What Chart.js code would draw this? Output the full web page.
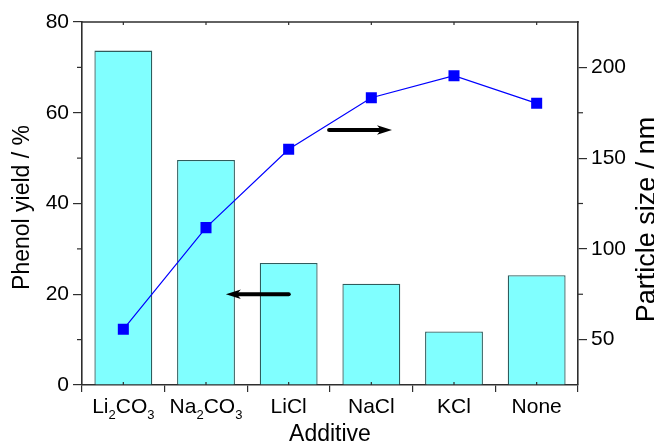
<!DOCTYPE html>
<html>
<head>
<meta charset="utf-8">
<script src="https://cdn.jsdelivr.net/npm/chart.js@4.4.1/dist/chart.umd.min.js"></script>
<style>
  html, body { margin: 0; padding: 0; background: #ffffff; }
  canvas { display: block; }
</style>
</head>
<body>
<canvas id="c" width="654" height="444" style="width:654px;height:444px"></canvas>
<script>
// ---- data ----
const categories = ['Li₂CO₃', 'Na₂CO₃', 'LiCl', 'NaCl', 'KCl', 'None'];
const phenolYield = [73.7, 49.6, 26.9, 22.3, 11.8, 24.2];
const particleSize = [55.7, 111.7, 154.9, 183.3, 195.4, 180.2];
const leftTicks = [0, 20, 40, 60, 80];
const leftMinorTicks = [10, 30, 50, 70];
const rightTicks = [50, 100, 150, 200];
const rightMinorTicks = [75, 125, 175];
const xTitle = 'Additive';
const yLeftTitle = 'Phenol yield / %';
const yRightTitle = 'Particle size / nm';
// arrows: annotation pointing to the axis each series belongs to (data coordinates)
const arrows = [
  { axis: 'y',  value: 20,    fromIndex: 2.0,  toIndex: 1.24 },
  { axis: 'y1', value: 165.5, fromIndex: 2.49, toIndex: 3.25 }
];

// ---- styles ----
const FONT = '"Liberation Sans", Arial, Helvetica, sans-serif';
const AXIS = '#2e2e2e';
const subMap = { '₀':'0','₁':'1','₂':'2','₃':'3','₄':'4','₅':'5','₆':'6','₇':'7','₈':'8','₉':'9' };

function drawRich(ctx, text, cx, baseline, size) {
  const runs = [];
  for (const ch of text) {
    const sub = subMap[ch] !== undefined;
    const c = sub ? subMap[ch] : ch;
    if (runs.length && runs[runs.length - 1].sub === sub) runs[runs.length - 1].t += c;
    else runs.push({ t: c, sub });
  }
  const subSize = Math.round(size * 0.62);
  let total = 0;
  runs.forEach(r => {
    ctx.font = (r.sub ? subSize : size) + 'px ' + FONT;
    r.w = ctx.measureText(r.t).width;
    total += r.w;
  });
  let x = cx - total / 2;
  ctx.textAlign = 'left';
  ctx.textBaseline = 'alphabetic';
  runs.forEach(r => {
    ctx.font = (r.sub ? subSize : size) + 'px ' + FONT;
    ctx.fillText(r.t, x, baseline + (r.sub ? size * 0.3 : 0));
    x += r.w;
  });
}

function line(ctx, x1, y1, x2, y2) {
  ctx.beginPath(); ctx.moveTo(x1, y1); ctx.lineTo(x2, y2); ctx.stroke();
}

const decorPlugin = {
  id: 'decor',
  afterDatasetsDraw(chart) {
    const ctx = chart.ctx;
    const xs = chart.scales.x;
    ctx.save();
    ctx.fillStyle = '#000';
    ctx.strokeStyle = '#000';
    arrows.forEach(a => {
      const sc = chart.scales[a.axis];
      const y = sc.getPixelForValue(a.value);
      const x1 = xs.getPixelForValue(a.fromIndex);
      const x2 = xs.getPixelForValue(a.toIndex);
      const dir = Math.sign(x2 - x1);
      const headLen = 15, headHalf = 4.8;
      ctx.lineWidth = 4.2;
      ctx.lineCap = 'round';
      line(ctx, x1, y, x2 - dir * (headLen - 3), y);
      ctx.beginPath();
      ctx.moveTo(x2, y);
      ctx.lineTo(x2 - dir * headLen, y - headHalf);
      ctx.lineTo(x2 - dir * (headLen - 4), y);
      ctx.lineTo(x2 - dir * headLen, y + headHalf);
      ctx.closePath();
      ctx.fill();
    });
    ctx.restore();
  },
  afterDraw(chart) {
    const ctx = chart.ctx;
    const area = chart.chartArea;
    const xs = chart.scales.x, yl = chart.scales.y, yr = chart.scales.y1;
    ctx.save();
    ctx.strokeStyle = AXIS;
    ctx.lineWidth = 1.6;
    line(ctx, area.left - 0.8, area.top, area.right + 0.8, area.top);
    ctx.lineWidth = 1.2;
    leftMinorTicks.forEach(v => { const y = yl.getPixelForValue(v); line(ctx, area.left - 5, y, area.left, y); });
    rightMinorTicks.forEach(v => { const y = yr.getPixelForValue(v); line(ctx, area.right, y, area.right + 5, y); });
    categories.forEach((c, i) => {
      const x = xs.getPixelForValue(i);
      line(ctx, x, area.bottom, x, area.bottom - 3);
      line(ctx, x, area.top, x, area.top + 3);
    });
    // x tick labels with subscripts
    ctx.fillStyle = '#000';
    categories.forEach((c, i) => {
      drawRich(ctx, c, xs.getPixelForValue(i), area.bottom + 28, 21);
    });
    // titles
    ctx.textAlign = 'center';
    ctx.textBaseline = 'alphabetic';
    ctx.font = '23px ' + FONT;
    ctx.fillText(xTitle, (area.left + area.right) / 2, area.bottom + 56);
    ctx.save();
    ctx.translate(28.5, (area.top + area.bottom) / 2 + 4);
    ctx.rotate(-Math.PI / 2);
    ctx.fillText(yLeftTitle, 0, 0);
    ctx.restore();
    ctx.save();
    ctx.font = '27px ' + FONT;
    ctx.translate(655, (area.top + area.bottom) / 2 + 16);
    ctx.rotate(-Math.PI / 2);
    ctx.fillText(yRightTitle, 0, 0);
    ctx.restore();
    ctx.restore();
  }
};

new Chart(document.getElementById('c'), {
  data: {
    labels: categories,
    datasets: [
      {
        type: 'line',
        label: 'Particle size',
        data: particleSize,
        yAxisID: 'y1',
        order: 1,
        borderColor: '#0000ff',
        borderWidth: 1.2,
        backgroundColor: '#0000ff',
        pointStyle: 'rect',
        pointRadius: 7.8,
        pointBackgroundColor: '#0000ff',
        pointBorderColor: '#0000ff',
        pointBorderWidth: 0,
        tension: 0,
        fill: false
      },
      {
        type: 'bar',
        label: 'Phenol yield',
        data: phenolYield,
        yAxisID: 'y',
        order: 2,
        backgroundColor: '#80ffff',
        borderColor: '#2f5c5c',
        borderWidth: 1.3,
        barPercentage: 0.7,
        categoryPercentage: 1.0
      }
    ]
  },
  options: {
    responsive: false,
    devicePixelRatio: 1,
    animation: false,
    layout: { padding: { top: 22, left: 0, right: 0, bottom: 0 } },
    plugins: { legend: { display: false }, tooltip: { enabled: false } },
    scales: {
      x: {
        type: 'category',
        offset: true,
        afterFit(s) { s.height = 59; },
        grid: { offset: true, drawOnChartArea: false, drawTicks: true, tickLength: 7, color: AXIS, lineWidth: 1.2 },
        border: { display: true, color: AXIS, width: 1.6 },
        ticks: { display: false }
      },
      y: {
        type: 'linear',
        position: 'left',
        min: 0, max: 80,
        afterFit(s) { s.width = 82; },
        afterBuildTicks(s) { s.ticks = leftTicks.map(v => ({ value: v })); },
        grid: { drawOnChartArea: false, drawTicks: true, tickLength: 9, color: AXIS, lineWidth: 1.2 },
        border: { display: true, color: AXIS, width: 1.6 },
        ticks: { color: '#000', font: { family: FONT, size: 21 }, padding: 4 }
      },
      y1: {
        type: 'linear',
        position: 'right',
        min: 25, max: 225,
        afterFit(s) { s.width = 76; },
        afterBuildTicks(s) { s.ticks = rightTicks.map(v => ({ value: v })); },
        grid: { drawOnChartArea: false, drawTicks: true, tickLength: 9, color: AXIS, lineWidth: 1.2 },
        border: { display: true, color: AXIS, width: 1.6 },
        ticks: { color: '#000', font: { family: FONT, size: 21 }, padding: 4 }
      }
    }
  },
  plugins: [decorPlugin]
});
</script>
</body>
</html>
